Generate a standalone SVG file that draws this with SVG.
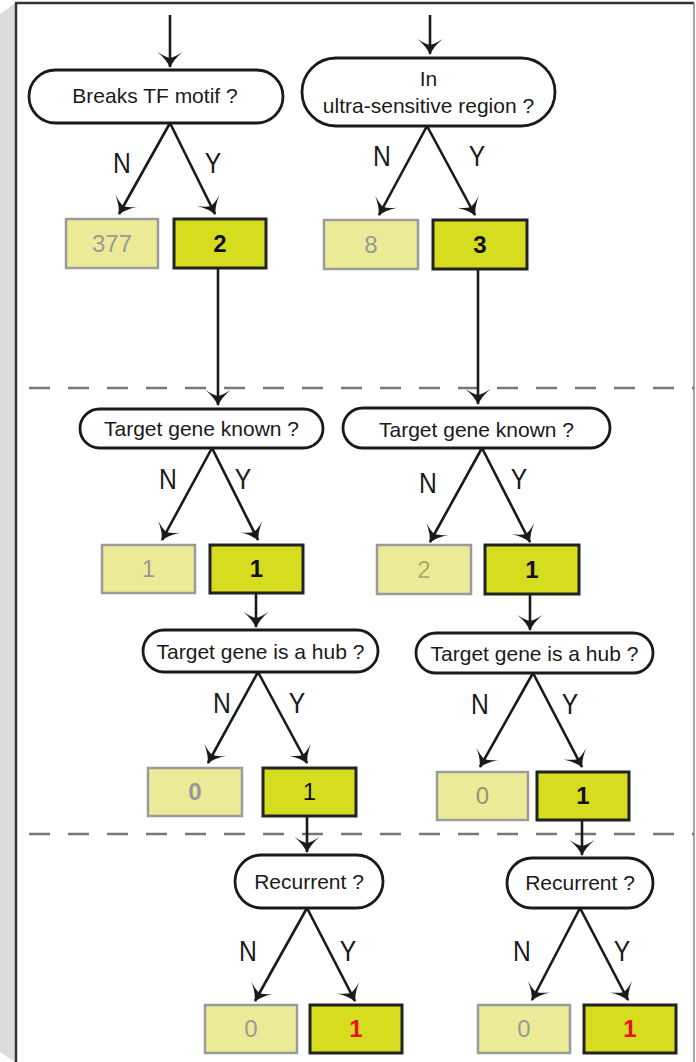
<svg xmlns="http://www.w3.org/2000/svg" width="696" height="1062" viewBox="0 0 696 1062">
<defs>
<marker id="ah" viewBox="-18 -14 20 28" markerWidth="20" markerHeight="28" refX="0" refY="0" orient="auto" markerUnits="userSpaceOnUse">
<path d="M1,0 Q-7,-3 -15,-12.5 Q-10,-5 -9,0 Q-10,5 -15,12.5 Q-7,3 1,0 Z" fill="#1a1a1a"/>
</marker>
<style>
.pill{fill:#fff;stroke:#1a1a1a;stroke-width:2.8}
.q{font-family:"Liberation Sans",Arial,sans-serif;font-size:21px;fill:#1a1a1a;text-anchor:middle}
.lbl{font-family:"Liberation Sans",Arial,sans-serif;font-size:29px;fill:#1a1a1a;text-anchor:middle}
.pale{fill:#ebeb97;stroke:#9a9a9a;stroke-width:2.5}
.bright{fill:#d6dd1f;stroke:#222;stroke-width:3}
.num{font-family:"Liberation Sans",Arial,sans-serif;font-size:24px;text-anchor:middle}
.g{fill:#999}
.k{fill:#111}
.b{font-weight:bold}
.r{fill:#e8141b}
.con line{stroke:#1a1a1a;stroke-width:2.6;marker-end:url(#ah)}
.dash{stroke:#777;stroke-width:2.5;stroke-dasharray:21 18}
</style>
</defs>
<rect width="696" height="1062" fill="#fff"/>
<polygon points="0,14 15,3 15,1062 0,1052" fill="#dcdcdc"/>
<line x1="16" y1="1062" x2="16" y2="3" stroke="#333" stroke-width="2.5"/>
<line x1="15" y1="3" x2="694" y2="3" stroke="#333" stroke-width="2.5"/>
<line x1="694" y1="3" x2="694" y2="1062" stroke="#888" stroke-width="1.5"/>
<line class="dash" x1="29" y1="388" x2="694" y2="388"/>
<line class="dash" x1="29" y1="834" x2="694" y2="834"/>

<g class="con" id="connectors">
<line x1="170" y1="15" x2="170" y2="67"/>
<line x1="430" y1="15" x2="430" y2="54"/>
<line x1="170" y1="123" x2="119" y2="214"/>
<line x1="170" y1="123" x2="215" y2="214"/>
<line x1="427" y1="126" x2="379" y2="215"/>
<line x1="427" y1="126" x2="475" y2="215"/>
<line x1="218" y1="268" x2="218" y2="405"/>
<line x1="478" y1="269" x2="478" y2="404"/>
<line x1="212" y1="448" x2="162" y2="540"/>
<line x1="212" y1="448" x2="258" y2="540"/>
<line x1="482" y1="448" x2="430" y2="542"/>
<line x1="482" y1="448" x2="530" y2="542"/>
<line x1="256" y1="593" x2="256" y2="627"/>
<line x1="530" y1="594" x2="530" y2="630"/>
<line x1="258" y1="672" x2="208" y2="763"/>
<line x1="258" y1="672" x2="307" y2="763"/>
<line x1="533" y1="673" x2="480" y2="767"/>
<line x1="533" y1="673" x2="582" y2="767"/>
<line x1="307" y1="816" x2="307" y2="852"/>
<line x1="582" y1="820" x2="582" y2="855"/>
<line x1="307" y1="908" x2="255" y2="1001"/>
<line x1="307" y1="908" x2="355" y2="1001"/>
<line x1="580" y1="908" x2="532" y2="1000"/>
<line x1="580" y1="908" x2="628" y2="1000"/>
</g>

<g id="labels">
<text class="lbl" transform="translate(122,173) scale(0.85,1)">N</text>
<text class="lbl" transform="translate(213,173) scale(0.85,1)">Y</text>
<text class="lbl" transform="translate(382,166) scale(0.85,1)">N</text>
<text class="lbl" transform="translate(477,166) scale(0.85,1)">Y</text>
<text class="lbl" transform="translate(168,489) scale(0.85,1)">N</text>
<text class="lbl" transform="translate(243,489) scale(0.85,1)">Y</text>
<text class="lbl" transform="translate(428,493) scale(0.85,1)">N</text>
<text class="lbl" transform="translate(519,489) scale(0.85,1)">Y</text>
<text class="lbl" transform="translate(222,713) scale(0.85,1)">N</text>
<text class="lbl" transform="translate(297,713) scale(0.85,1)">Y</text>
<text class="lbl" transform="translate(480,714) scale(0.85,1)">N</text>
<text class="lbl" transform="translate(570,714) scale(0.85,1)">Y</text>
<text class="lbl" transform="translate(248,961) scale(0.85,1)">N</text>
<text class="lbl" transform="translate(348,961) scale(0.85,1)">Y</text>
<text class="lbl" transform="translate(522,961) scale(0.85,1)">N</text>
<text class="lbl" transform="translate(622,961) scale(0.85,1)">Y</text>
</g>

<g id="q-breaks"><rect class="pill" x="29" y="70" width="254" height="53" rx="26.5"/><text class="q" x="155" y="103">Breaks TF motif ?</text></g>
<g id="q-ultra"><rect class="pill" x="302" y="58" width="253" height="68" rx="34"/><text class="q" x="428.5" y="86">In</text><text class="q" x="428.5" y="113">ultra-sensitive region ?</text></g>
<g id="q-known-l"><rect class="pill" x="80" y="409" width="243" height="39" rx="19.5"/><text class="q" x="201.5" y="436">Target gene known ?</text></g>
<g id="q-known-r"><rect class="pill" x="343" y="408" width="267" height="40" rx="20"/><text class="q" x="476.5" y="437">Target gene known ?</text></g>
<g id="q-hub-l"><rect class="pill" x="143" y="630" width="235" height="42" rx="21"/><text class="q" x="260.5" y="659">Target gene is a hub ?</text></g>
<g id="q-hub-r"><rect class="pill" x="416" y="633" width="237" height="40" rx="20"/><text class="q" x="534.5" y="661">Target gene is a hub ?</text></g>
<g id="q-rec-l"><rect class="pill" x="235" y="855" width="148" height="53" rx="26.5"/><text class="q" x="309" y="889">Recurrent ?</text></g>
<g id="q-rec-r"><rect class="pill" x="507" y="858" width="146" height="50" rx="25"/><text class="q" x="580" y="890">Recurrent ?</text></g>

<g id="b-377"><rect class="pale" x="66" y="219" width="92" height="49"/><text class="num g" x="112" y="252">377</text></g>
<g id="b-2"><rect class="bright" x="174" y="219" width="92" height="49"/><text class="num k b" x="220" y="252">2</text></g>
<g id="b-8"><rect class="pale" x="324" y="220" width="94" height="49"/><text class="num g" x="371" y="253">8</text></g>
<g id="b-3"><rect class="bright" x="433" y="220" width="94" height="49"/><text class="num k b" x="480" y="253">3</text></g>
<g id="b-ml-n"><rect class="pale" x="102" y="545" width="93" height="48"/><text class="num g" x="148.5" y="577">1</text></g>
<g id="b-ml-y"><rect class="bright" x="210" y="545" width="93" height="48"/><text class="num k b" x="256.5" y="577">1</text></g>
<g id="b-mr-n"><rect class="pale" x="377" y="545" width="94" height="49"/><text class="num" fill="#a9ad6c" x="424" y="578">2</text></g>
<g id="b-mr-y"><rect class="bright" x="485" y="545" width="94" height="49"/><text class="num k b" x="532" y="578">1</text></g>
<g id="b-hl-n"><rect class="pale" x="148" y="768" width="94" height="48"/><text class="num g b" x="195" y="800">0</text></g>
<g id="b-hl-y"><rect class="bright" x="263" y="768" width="93" height="48"/><text class="num k" x="309.5" y="800">1</text></g>
<g id="b-hr-n"><rect class="pale" x="437" y="772" width="91" height="48"/><text class="num" fill="#949478" x="482.5" y="804">0</text></g>
<g id="b-hr-y"><rect class="bright" x="537" y="772" width="92" height="48"/><text class="num k b" x="583" y="804">1</text></g>
<g id="b-rl-n"><rect class="pale" x="205" y="1005" width="92" height="48"/><text class="num g" x="251" y="1037">0</text></g>
<g id="b-rl-y"><rect class="bright" x="310" y="1005" width="92" height="48"/><text class="num r b" x="356" y="1037">1</text></g>
<g id="b-rr-n"><rect class="pale" x="478" y="1005" width="92" height="48"/><text class="num g" x="524" y="1037">0</text></g>
<g id="b-rr-y"><rect class="bright" x="584" y="1005" width="92" height="48"/><text class="num r b" x="630" y="1037">1</text></g>
</svg>
